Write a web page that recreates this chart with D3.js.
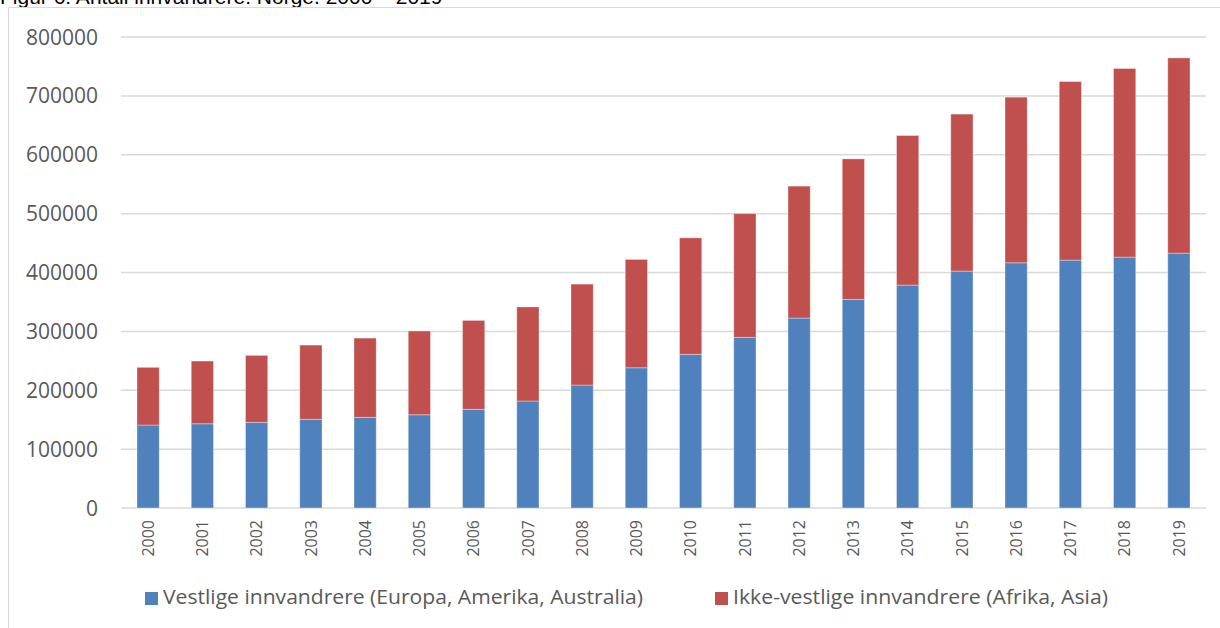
<!DOCTYPE html>
<html>
<head>
<meta charset="utf-8">
<script src="https://cdn.jsdelivr.net/npm/d3@7"></script>
<style>
  body { margin: 0; background: #fff; }
  text { font-family: "Open Sans", sans-serif; }
</style>
</head>
<body>
<script>
// values
var years = ["2000", "2001", "2002", "2003", "2004", "2005", "2006", "2007", "2008", "2009",
             "2010", "2011", "2012", "2013", "2014", "2015", "2016", "2017", "2018", "2019"];
var vestlige = [140900, 143100, 145500, 150600, 154000, 158400, 167600, 181700, 208800, 238200,
                261000, 289800, 322600, 354300, 378600, 402400, 416500, 421000, 426100, 432900];
var ikkeVestlige = [98000, 106500, 113700, 126100, 134600, 142300, 151000, 159800, 171500, 184000,
                    197900, 210200, 224100, 238700, 254100, 266600, 281300, 303400, 320400, 331600];
var yTicks = [0, 100000, 200000, 300000, 400000, 500000, 600000, 700000, 800000];
var seriesNames = ["Vestlige innvandrere (Europa, Amerika, Australia)",
                   "Ikke-vestlige innvandrere (Afrika, Asia)"];
var colors = ["#4f81bd", "#c0504d"];

var W = 1220, H = 628;

var svg = d3.select("body")
    .append("svg")
    .attr("width", W)
    .attr("height", H);

// title, mostly cut off at the top (as in the original)
svg.append("text")
    .attr("x", 0)
    .attr("y", 3.5)
    .style("font-family", "'Liberation Sans', Arial, sans-serif")
    .style("font-size", "21px")
    .attr("fill", "#000")
    .text("Figur 6: Antall innvandrere. Norge. 2000 \u2013 2019");

// chart frame (left and top edge visible)
svg.append("path")
    .attr("d", "M8.5," + H + "V7.5H" + W)
    .attr("fill", "none")
    .attr("stroke", "#d9d9d9")
    .attr("stroke-width", 1);

var x = d3.scaleBand()
    .domain(years)
    .range([121, 1206])
    .paddingInner(0.59)
    .paddingOuter(0.295);

var y = d3.scaleLinear()
    .domain([0, 800000])
    .range([508, 37]);

// gridlines + y labels
svg.append("g")
    .selectAll("line")
    .data(yTicks)
    .enter().append("line")
    .attr("x1", 121)
    .attr("x2", 1206)
    .attr("y1", function(d) { return y(d); })
    .attr("y2", function(d) { return y(d); })
    .attr("stroke", "#d9d9d9")
    .attr("stroke-width", 1.5);

svg.append("g")
    .selectAll("text")
    .data(yTicks)
    .enter().append("text")
    .attr("x", 98)
    .attr("y", function(d) { return y(d); })
    .attr("dy", "0.36em")
    .attr("text-anchor", "end")
    .attr("fill", "#595959")
    .style("font-size", "21px")
    .text(function(d) { return d; });

// stacked bars
var rows = years.map(function(yr, i) {
    return {year: yr, v: vestlige[i], iv: ikkeVestlige[i]};
});
var stack = d3.stack().keys(["v", "iv"])(rows);

svg.append("g")
    .selectAll("g")
    .data(stack)
    .enter().append("g")
    .attr("fill", function(d, i) { return colors[i]; })
    .selectAll("rect")
    .data(function(d) { return d; })
    .enter().append("rect")
    .attr("x", function(d) { return x(d.data.year); })
    .attr("width", x.bandwidth())
    .attr("y", function(d) { return y(d[1]); })
    .attr("height", function(d) { return y(d[0]) - y(d[1]); })
    .attr("stroke", "#fff")
    .attr("stroke-opacity", 0.35)
    .attr("stroke-width", 1);

// x labels, rotated
svg.append("g")
    .selectAll("text")
    .data(years)
    .enter().append("text")
    .attr("transform", function(d) {
        return "translate(" + (x(d) + x.bandwidth() / 2) + ",520) rotate(-90)";
    })
    .attr("dy", "0.36em")
    .attr("text-anchor", "end")
    .attr("fill", "#595959")
    .style("font-size", "16px")
    .text(function(d) { return d; });

// legend
var legendX = [145, 715];
var legendW = [480, 375];
var legend = svg.append("g")
    .selectAll("g")
    .data(seriesNames)
    .enter().append("g")
    .attr("transform", function(d, i) { return "translate(" + legendX[i] + ",592)"; });

legend.append("rect")
    .attr("width", 13)
    .attr("height", 13)
    .attr("fill", function(d, i) { return colors[i]; });

legend.append("text")
    .attr("x", 18)
    .attr("y", 12)
    .attr("fill", "#595959")
    .style("font-size", "20px")
    .attr("textLength", function(d, i) { return legendW[i]; })
    .attr("lengthAdjust", "spacingAndGlyphs")
    .text(function(d) { return d; });
</script>
</body>
</html>
